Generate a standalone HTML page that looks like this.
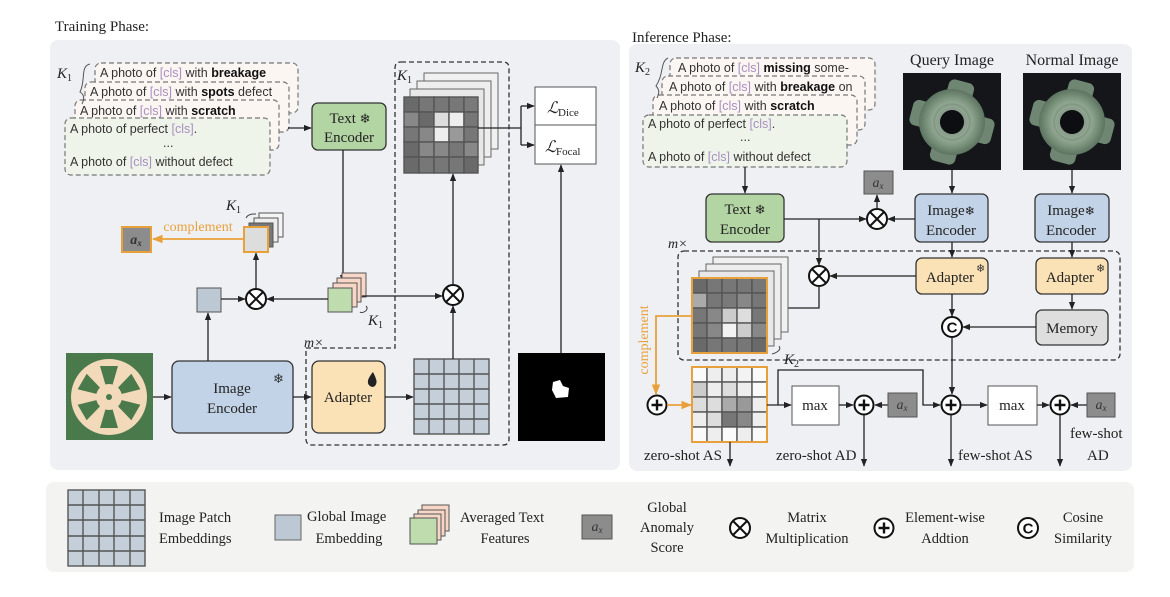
<!DOCTYPE html>
<html><head><meta charset="utf-8"><style>
html,body{margin:0;padding:0;background:#fff;}
svg{display:block;}
.s{font-family:"Liberation Serif",serif;fill:#222;}
.p{font-family:"Liberation Sans",sans-serif;font-size:12.5px;fill:#333;}
.c{fill:#a98fc0;}
.b{font-weight:bold;fill:#111;}
</style></head><body>
<svg width="1170" height="597" viewBox="0 0 1170 597" xmlns="http://www.w3.org/2000/svg">
<defs>
<marker id="ah" viewBox="0 0 10 10" refX="9" refY="5" markerWidth="6" markerHeight="6" orient="auto-start-reverse"><path d="M0,1 L10,5 L0,9 z" fill="#222"/></marker>
<marker id="ao" viewBox="0 0 10 10" refX="9" refY="5" markerWidth="6" markerHeight="6" orient="auto"><path d="M0,1 L10,5 L0,9 z" fill="#e8a13a"/></marker>
<radialGradient id="gear" cx="50%" cy="50%" r="50%"><stop offset="30%" stop-color="#4f6458"/><stop offset="60%" stop-color="#8fa58f"/><stop offset="100%" stop-color="#5c7460"/></radialGradient>
<g id="otimes"><circle r="10" fill="#fff" stroke="#111" stroke-width="2"/><path d="M-7,-7 L7,7 M7,-7 L-7,7" stroke="#111" stroke-width="2"/></g>
<g id="oplus"><circle r="9.5" fill="#fff" stroke="#111" stroke-width="2"/><path d="M-5.5,0 L5.5,0 M0,-5.5 L0,5.5" stroke="#111" stroke-width="2.4"/></g>
<g id="ocirc"><circle r="10" fill="#fff" stroke="#111" stroke-width="2"/><text x="0" y="5.5" text-anchor="middle" font-family="Liberation Sans,sans-serif" font-weight="bold" font-size="15" fill="#111">C</text></g>
<g id="gearimg">
 <rect x="0" y="0" width="98" height="97" fill="#14161a"/>
 <g transform="translate(49,49) rotate(15)">
  <rect x="-13" y="-42" width="26" height="84" rx="6" fill="#6f8673"/>
  <rect x="-42" y="-13" width="84" height="26" rx="6" fill="#6f8673"/>
  <circle r="33" fill="url(#gear)"/>
  <circle r="17" fill="#9aae9a" opacity=".7"/>
  <circle r="12" fill="#0c0e12"/>
 </g>
</g>
</defs>

<!-- panels -->
<rect x="50" y="40" width="570" height="430" rx="8" fill="#eff0f4"/>
<rect x="629" y="44" width="503" height="427" rx="8" fill="#eff0f4"/>
<rect x="46" y="482" width="1088" height="90" rx="8" fill="#f3f4f1"/>
<text class="s" x="55" y="31" font-size="15">Training Phase:</text>
<text class="s" x="632" y="42" font-size="15">Inference Phase:</text>

<!-- ===== LEFT ===== -->
<g stroke="#777" stroke-width="1.2" stroke-dasharray="5,3">
<rect x="95" y="63" width="203" height="50" rx="6" fill="#fcf6f2"/>
<rect x="85" y="82" width="204" height="50" rx="6" fill="#fcf6f2"/>
<rect x="75" y="100" width="204" height="50" rx="6" fill="#fcf6f2"/>
<rect x="65" y="118" width="205" height="57" rx="6" fill="#eef4ea"/>
</g>
<text class="s" x="57" y="78" font-size="15" font-style="italic">K</text><text class="s" x="67" y="81" font-size="10">1</text>
<path d="M90,64 C80,66 86,80 80,92 C85,95 84,100 82,104" stroke="#555" fill="none" stroke-width="1"/>
<text class="p" x="100" y="77">A photo of <tspan class="c">[cls]</tspan> with <tspan class="b">breakage</tspan></text>
<text class="p" x="90" y="96">A photo of <tspan class="c">[cls]</tspan> with <tspan class="b">spots</tspan> defect</text>
<text class="p" x="80" y="115">A photo of <tspan class="c">[cls]</tspan> with <tspan class="b">scratch</tspan></text>
<text class="p" x="70" y="133">A photo of perfect <tspan class="c">[cls]</tspan>.</text>
<text class="p" x="163" y="147">...</text>
<text class="p" x="70" y="166">A photo of <tspan class="c">[cls]</tspan> without defect</text>
<line x1="288" y1="128" x2="311" y2="128" stroke="#222" stroke-width="1.3" marker-end="url(#ah)"/>

<rect x="312" y="103" width="74" height="47" rx="6" fill="#b3d4a3" stroke="#333" stroke-width="1.3"/>
<text class="s" x="350" y="123" font-size="15" text-anchor="middle">Text <tspan font-size="13">❄</tspan></text>
<text class="s" x="349" y="142" font-size="15" text-anchor="middle">Encoder</text>

<!-- dashed region -->
<path d="M401,62 L503,62 Q509,62 509,68 L509,439 Q509,445 503,445 L312,445 Q306,445 306,439 L306,348 L395,348 L395,68 Q395,62 401,62 Z" fill="none" stroke="#333" stroke-width="1.3" stroke-dasharray="5,3"/>
<text class="s" x="397" y="80" font-size="15" font-style="italic">K</text><text class="s" x="407" y="83" font-size="10">1</text>
<text class="s" x="304" y="347" font-size="14" font-style="italic">m×</text>

<!-- grid stack top -->
<g stroke="#666" stroke-width="1">
<rect x="424" y="73" width="74" height="76" fill="#f0f0f0"/>
<rect x="417" y="81" width="74" height="76" fill="#eee"/>
<rect x="410" y="89" width="74" height="76" fill="#e8e8e8"/>
</g>
<g stroke="#555" stroke-width="1.4">
<rect x="404" y="97" width="15" height="15" fill="#6a6a6a"/><rect x="419" y="97" width="15" height="15" fill="#777"/><rect x="434" y="97" width="15" height="15" fill="#777"/><rect x="449" y="97" width="15" height="15" fill="#777"/><rect x="464" y="97" width="14" height="15" fill="#7a7a7a"/>
<rect x="404" y="112" width="15" height="15" fill="#888"/><rect x="419" y="112" width="15" height="15" fill="#6a6a6a"/><rect x="434" y="112" width="15" height="15" fill="#ddd"/><rect x="449" y="112" width="15" height="15" fill="#eee"/><rect x="464" y="112" width="14" height="15" fill="#777"/>
<rect x="404" y="127" width="15" height="15" fill="#777"/><rect x="419" y="127" width="15" height="15" fill="#888"/><rect x="434" y="127" width="15" height="15" fill="#eee"/><rect x="449" y="127" width="15" height="15" fill="#999"/><rect x="464" y="127" width="14" height="15" fill="#777"/>
<rect x="404" y="142" width="15" height="15" fill="#6a6a6a"/><rect x="419" y="142" width="15" height="15" fill="#888"/><rect x="434" y="142" width="15" height="15" fill="#888"/><rect x="449" y="142" width="15" height="15" fill="#777"/><rect x="464" y="142" width="14" height="15" fill="#888"/>
<rect x="404" y="157" width="15" height="16" fill="#6a6a6a"/><rect x="419" y="157" width="15" height="16" fill="#777"/><rect x="434" y="157" width="15" height="16" fill="#777"/><rect x="449" y="157" width="15" height="16" fill="#777"/><rect x="464" y="157" width="14" height="16" fill="#6a6a6a"/>
</g>
<!-- loss -->
<path d="M478,128 L521,128 M521,106 L521,145" stroke="#222" stroke-width="1.3" fill="none"/>
<line x1="521" y1="106" x2="534" y2="106" stroke="#222" stroke-width="1.3" marker-end="url(#ah)"/>
<line x1="521" y1="145" x2="534" y2="145" stroke="#222" stroke-width="1.3" marker-end="url(#ah)"/>
<rect x="535" y="87" width="61" height="77" fill="#fff" stroke="#555"/>
<line x1="535" y1="125" x2="596" y2="125" stroke="#555"/>
<text class="s" x="547" y="113" font-size="16" font-style="italic">ℒ</text><text class="s" x="558" y="116" font-size="11">Dice</text>
<text class="s" x="545" y="152" font-size="16" font-style="italic">ℒ</text><text class="s" x="556" y="155" font-size="11">Focal</text>
<!-- mask -->
<rect x="518" y="353" width="87" height="88" fill="#000"/>
<path d="M553,382 L560,380 L563,386 L569,388 L568,397 L556,398 L552,390 Z" fill="#fff"/>
<line x1="561" y1="353" x2="561" y2="165" stroke="#222" stroke-width="1.3" marker-end="url(#ah)"/>

<!-- photo -->
<rect x="66" y="353" width="87" height="87" fill="#4a7a4c"/>
<circle cx="109" cy="397" r="38" fill="#f1d9b9"/>
<g fill="#4a7a4c">
<path d="M109,397 L100,366 L118,366 Z" transform="rotate(0 109 397)"/>
<path d="M109,397 L100,366 L118,366 Z" transform="rotate(60 109 397)"/>
<path d="M109,397 L100,366 L118,366 Z" transform="rotate(120 109 397)"/>
<path d="M109,397 L100,366 L118,366 Z" transform="rotate(180 109 397)"/>
<path d="M109,397 L100,366 L118,366 Z" transform="rotate(240 109 397)"/>
<path d="M109,397 L100,366 L118,366 Z" transform="rotate(300 109 397)"/>
</g>
<circle cx="109" cy="397" r="13" fill="#f1d9b9"/>
<circle cx="109" cy="397" r="3" fill="#4a7a4c"/>
<line x1="153" y1="397" x2="171" y2="397" stroke="#222" stroke-width="1.3" marker-end="url(#ah)"/>
<rect x="172" y="361" width="121" height="72" rx="7" fill="#c3d3e7" stroke="#333" stroke-width="1.3"/>
<text class="s" x="232" y="393" font-size="15" text-anchor="middle">Image</text>
<text class="s" x="232" y="413" font-size="15" text-anchor="middle">Encoder</text>
<text x="273" y="383" font-size="13" fill="#333">❄</text>
<line x1="293" y1="397" x2="311" y2="397" stroke="#222" stroke-width="1.3" marker-end="url(#ah)"/>
<rect x="312" y="361" width="73" height="72" rx="7" fill="#fbe2b6" stroke="#333" stroke-width="1.3"/>
<text class="s" x="348" y="402" font-size="15" text-anchor="middle">Adapter</text>
<path d="M373,372 C368,378 366,383 370,386 C374,389 378,384 376,379 C375,376 374,374 373,372 Z" fill="#222"/>
<line x1="385" y1="397" x2="413" y2="397" stroke="#222" stroke-width="1.3" marker-end="url(#ah)"/>
<!-- patch grid -->
<rect x="414" y="359" width="75" height="75" fill="#c5cfd9" stroke="#555" stroke-width="1.4"/>
<path d="M429,359V434M444,359V434M459,359V434M474,359V434M414,374H489M414,389H489M414,404H489M414,419H489" stroke="#555" stroke-width="1.4"/>
<line x1="453" y1="359" x2="453" y2="306" stroke="#222" stroke-width="1.3" marker-end="url(#ah)"/>
<use href="#otimes" x="453" y="295"/>
<line x1="453" y1="285" x2="453" y2="174" stroke="#222" stroke-width="1.3" marker-end="url(#ah)"/>

<!-- global emb -->
<line x1="208" y1="361" x2="208" y2="313" stroke="#222" stroke-width="1.3" marker-end="url(#ah)"/>
<rect x="197" y="288" width="24" height="24" fill="#bcc8d3" stroke="#555"/>
<line x1="221" y1="299" x2="245" y2="299" stroke="#222" stroke-width="1.3" marker-end="url(#ah)"/>
<use href="#otimes" x="256" y="299"/>
<!-- text features stack -->
<line x1="343" y1="150" x2="343" y2="282" stroke="#222" stroke-width="1.3" marker-end="url(#ah)"/>
<g stroke="#555" stroke-width="1">
<rect x="342" y="273" width="24" height="24" fill="#f7d6c8"/>
<rect x="337" y="278" width="24" height="24" fill="#f7d6c8"/>
<rect x="333" y="283" width="24" height="24" fill="#f7d6c8"/>
<rect x="328" y="288" width="24" height="24" fill="#bfdcae"/>
</g>
<line x1="328" y1="299" x2="267" y2="299" stroke="#222" stroke-width="1.3" marker-end="url(#ah)"/>
<line x1="362" y1="296" x2="442" y2="296" stroke="#222" stroke-width="1.3" marker-end="url(#ah)"/>
<path d="M366,306 C370,310 362,314 360,312" stroke="#444" fill="none"/>
<text class="s" x="368" y="325" font-size="15" font-style="italic">K</text><text class="s" x="378" y="328" font-size="10">1</text>
<!-- small stack -->
<line x1="256" y1="289" x2="256" y2="253" stroke="#222" stroke-width="1.3" marker-end="url(#ah)"/>
<g stroke="#555" stroke-width="1">
<rect x="259" y="213" width="24" height="24" fill="#f4f4f4"/>
<rect x="254" y="218" width="24" height="24" fill="#eee"/>
<rect x="249" y="223" width="24" height="24" fill="#777"/>
</g>
<rect x="244" y="227" width="24" height="25" fill="#ddd" stroke="#e8a13a" stroke-width="2"/>
<text class="s" x="226" y="210" font-size="15" font-style="italic">K</text><text class="s" x="236" y="213" font-size="10">1</text>
<path d="M246,218 C248,214 252,214 256,214" stroke="#444" fill="none"/>
<line x1="244" y1="239" x2="153" y2="239" stroke="#e8a13a" stroke-width="1.8" marker-end="url(#ao)"/>
<text class="s" x="198" y="231" font-size="14" text-anchor="middle" style="fill:#e8a13a">complement</text>
<rect x="122" y="227" width="29" height="25" fill="#8c8c8c" stroke="#e8a13a" stroke-width="2"/>
<text class="s" x="136" y="244" font-size="14" font-style="italic" text-anchor="middle" font-weight="bold" style="fill:#333">a<tspan font-size="9" dy="2">x</tspan></text>

<!-- ===== RIGHT ===== -->
<g stroke="#777" stroke-width="1.2" stroke-dasharray="5,3">
<rect x="670" y="58" width="205" height="52" rx="6" fill="#fcf6f2"/>
<rect x="662" y="76" width="203" height="54" rx="6" fill="#fcf6f2"/>
<rect x="653" y="95" width="204" height="50" rx="6" fill="#fcf6f2"/>
<rect x="643" y="115" width="204" height="52" rx="6" fill="#eef4ea"/>
</g>
<text class="s" x="635" y="72" font-size="15" font-style="italic">K</text><text class="s" x="645" y="75" font-size="10">2</text>
<path d="M668,58 C660,62 664,74 656,86 C660,90 659,94 657,98" stroke="#555" fill="none"/>
<text class="p" x="678" y="72">A photo of <tspan class="c">[cls]</tspan> <tspan class="b">missing</tspan> some-</text>
<text class="p" x="669" y="91">A photo of <tspan class="c">[cls]</tspan> with <tspan class="b">breakage</tspan> on</text>
<text class="p" x="659" y="110">A photo of <tspan class="c">[cls]</tspan> with <tspan class="b">scratch</tspan></text>
<text class="p" x="648" y="128">A photo of perfect <tspan class="c">[cls]</tspan>.</text>
<text class="p" x="740" y="141">...</text>
<text class="p" x="648" y="161">A photo of <tspan class="c">[cls]</tspan> without defect</text>
<line x1="745" y1="167" x2="745" y2="193" stroke="#222" stroke-width="1.3" marker-end="url(#ah)"/>
<rect x="706" y="194" width="78" height="48" rx="6" fill="#b3d4a3" stroke="#333" stroke-width="1.3"/>
<text class="s" x="745" y="214" font-size="15" text-anchor="middle">Text <tspan font-size="13">❄</tspan></text>
<text class="s" x="745" y="234" font-size="15" text-anchor="middle">Encoder</text>

<text class="s" x="952" y="65" font-size="16" text-anchor="middle">Query Image</text>
<text class="s" x="1072" y="65" font-size="16" text-anchor="middle">Normal Image</text>
<use href="#gearimg" x="903" y="73"/>
<use href="#gearimg" x="1023" y="73"/>
<line x1="952" y1="170" x2="952" y2="193" stroke="#222" stroke-width="1.3" marker-end="url(#ah)"/>
<line x1="1072" y1="170" x2="1072" y2="193" stroke="#222" stroke-width="1.3" marker-end="url(#ah)"/>
<rect x="915" y="194" width="73" height="48" rx="6" fill="#c3d3e7" stroke="#333" stroke-width="1.3"/>
<text class="s" x="951" y="215" font-size="15" text-anchor="middle">Image<tspan font-size="12">❄</tspan></text>
<text class="s" x="951" y="235" font-size="15" text-anchor="middle">Encoder</text>
<rect x="1035" y="194" width="74" height="48" rx="6" fill="#c3d3e7" stroke="#333" stroke-width="1.3"/>
<text class="s" x="1071" y="215" font-size="15" text-anchor="middle">Image<tspan font-size="12">❄</tspan></text>
<text class="s" x="1071" y="235" font-size="15" text-anchor="middle">Encoder</text>

<line x1="784" y1="219" x2="866" y2="219" stroke="#222" stroke-width="1.3" marker-end="url(#ah)"/>
<line x1="915" y1="219" x2="888" y2="219" stroke="#222" stroke-width="1.3" marker-end="url(#ah)"/>
<use href="#otimes" x="877" y="219"/>
<line x1="877" y1="209" x2="877" y2="195" stroke="#222" stroke-width="1.3" marker-end="url(#ah)"/>
<rect x="864" y="171" width="29" height="23" fill="#8c8c8c" stroke="#555"/>
<text class="s" x="878" y="187" font-size="14" font-style="italic" text-anchor="middle" style="fill:#333">a<tspan font-size="9" dy="2">x</tspan></text>
<line x1="819" y1="219" x2="819" y2="265" stroke="#222" stroke-width="1.3" marker-end="url(#ah)"/>

<!-- dashed box right -->
<rect x="678" y="251" width="442" height="109" rx="6" fill="none" stroke="#333" stroke-width="1.3" stroke-dasharray="5,3"/>
<text class="s" x="668" y="248" font-size="14" font-style="italic">m×</text>
<line x1="952" y1="242" x2="952" y2="257" stroke="#222" stroke-width="1.3" marker-end="url(#ah)"/>
<line x1="1072" y1="242" x2="1072" y2="257" stroke="#222" stroke-width="1.3" marker-end="url(#ah)"/>
<rect x="916" y="258" width="72" height="36" rx="6" fill="#fbe2b6" stroke="#333" stroke-width="1.3"/>
<text class="s" x="950" y="282" font-size="15" text-anchor="middle">Adapter</text><text x="976" y="272" font-size="11" fill="#333">❄</text>
<rect x="1036" y="258" width="72" height="36" rx="6" fill="#fbe2b6" stroke="#333" stroke-width="1.3"/>
<text class="s" x="1070" y="282" font-size="15" text-anchor="middle">Adapter</text><text x="1096" y="272" font-size="11" fill="#333">❄</text>
<line x1="916" y1="276" x2="830" y2="276" stroke="#222" stroke-width="1.3" marker-end="url(#ah)"/>
<use href="#otimes" x="819" y="276"/>
<path d="M819,286 L819,308 L776,308" stroke="#222" stroke-width="1.3" fill="none" marker-end="url(#ah)"/>
<line x1="1072" y1="294" x2="1072" y2="309" stroke="#222" stroke-width="1.3" marker-end="url(#ah)"/>
<rect x="1036" y="310" width="72" height="35" rx="6" fill="#dedede" stroke="#333" stroke-width="1.3"/>
<text class="s" x="1072" y="333" font-size="15" text-anchor="middle">Memory</text>
<line x1="952" y1="294" x2="952" y2="316" stroke="#222" stroke-width="1.3" marker-end="url(#ah)"/>
<line x1="1036" y1="327" x2="963" y2="327" stroke="#222" stroke-width="1.3" marker-end="url(#ah)"/>
<use href="#ocirc" x="952" y="327"/>
<line x1="952" y1="337" x2="952" y2="394" stroke="#222" stroke-width="1.3" marker-end="url(#ah)"/>

<!-- right grid stack -->
<g stroke="#666" stroke-width="1">
<rect x="713" y="257" width="75" height="75" fill="#f0f0f0"/>
<rect x="706" y="264" width="75" height="75" fill="#eee"/>
<rect x="699" y="271" width="75" height="75" fill="#e8e8e8"/>
</g>
<g stroke="#555" stroke-width="1.4">
<rect x="692" y="278" width="15" height="15" fill="#6a6a6a"/><rect x="707" y="278" width="15" height="15" fill="#777"/><rect x="722" y="278" width="15" height="15" fill="#777"/><rect x="737" y="278" width="15" height="15" fill="#777"/><rect x="752" y="278" width="15" height="15" fill="#777"/>
<rect x="692" y="293" width="15" height="15" fill="#aaa"/><rect x="707" y="293" width="15" height="15" fill="#777"/><rect x="722" y="293" width="15" height="15" fill="#7a7a7a"/><rect x="737" y="293" width="15" height="15" fill="#888"/><rect x="752" y="293" width="15" height="15" fill="#777"/>
<rect x="692" y="308" width="15" height="15" fill="#777"/><rect x="707" y="308" width="15" height="15" fill="#888"/><rect x="722" y="308" width="15" height="15" fill="#ccc"/><rect x="737" y="308" width="15" height="15" fill="#ddd"/><rect x="752" y="308" width="15" height="15" fill="#777"/>
<rect x="692" y="323" width="15" height="15" fill="#777"/><rect x="707" y="323" width="15" height="15" fill="#888"/><rect x="722" y="323" width="15" height="15" fill="#f2f2f2"/><rect x="737" y="323" width="15" height="15" fill="#ccc"/><rect x="752" y="323" width="15" height="15" fill="#888"/>
<rect x="692" y="338" width="15" height="15" fill="#6a6a6a"/><rect x="707" y="338" width="15" height="15" fill="#777"/><rect x="722" y="338" width="15" height="15" fill="#777"/><rect x="737" y="338" width="15" height="15" fill="#777"/><rect x="752" y="338" width="15" height="15" fill="#6a6a6a"/>
</g>
<rect x="692" y="278" width="75" height="75" fill="none" stroke="#e8a13a" stroke-width="2"/>
<path d="M779,346 C782,350 776,353 772,354" stroke="#444" fill="none"/>
<text class="s" x="784" y="364" font-size="15" font-style="italic">K</text><text class="s" x="794" y="367" font-size="10">2</text>
<path d="M692,316 L656,316 L656,394" stroke="#e8a13a" stroke-width="1.8" fill="none" marker-end="url(#ao)"/>
<text class="s" x="648" y="340" font-size="14" text-anchor="middle" transform="rotate(-90 648 340)" style="fill:#e8a13a">complement</text>
<use href="#oplus" x="657" y="405"/>
<line x1="667" y1="405" x2="691" y2="405" stroke="#e8a13a" stroke-width="1.8" marker-end="url(#ao)"/>

<!-- lower grid -->
<g stroke="#555" stroke-width="1.4">
<rect x="692" y="367" width="15" height="15" fill="#fafafa"/><rect x="707" y="367" width="15" height="15" fill="#eee"/><rect x="722" y="367" width="15" height="15" fill="#eee"/><rect x="737" y="367" width="15" height="15" fill="#f3f3f3"/><rect x="752" y="367" width="15" height="15" fill="#fafafa"/>
<rect x="692" y="382" width="15" height="15" fill="#ccc"/><rect x="707" y="382" width="15" height="15" fill="#eee"/><rect x="722" y="382" width="15" height="15" fill="#ddd"/><rect x="737" y="382" width="15" height="15" fill="#eee"/><rect x="752" y="382" width="15" height="15" fill="#fafafa"/>
<rect x="692" y="397" width="15" height="15" fill="#ddd"/><rect x="707" y="397" width="15" height="15" fill="#ddd"/><rect x="722" y="397" width="15" height="15" fill="#aaa"/><rect x="737" y="397" width="15" height="15" fill="#999"/><rect x="752" y="397" width="15" height="15" fill="#eee"/>
<rect x="692" y="412" width="15" height="15" fill="#eee"/><rect x="707" y="412" width="15" height="15" fill="#ddd"/><rect x="722" y="412" width="15" height="15" fill="#777"/><rect x="737" y="412" width="15" height="15" fill="#888"/><rect x="752" y="412" width="15" height="15" fill="#eee"/>
<rect x="692" y="427" width="15" height="15" fill="#fafafa"/><rect x="707" y="427" width="15" height="15" fill="#eee"/><rect x="722" y="427" width="15" height="15" fill="#fafafa"/><rect x="737" y="427" width="15" height="15" fill="#eee"/><rect x="752" y="427" width="15" height="15" fill="#fafafa"/>
</g>
<rect x="692" y="367" width="75" height="75" fill="none" stroke="#e8a13a" stroke-width="2"/>

<line x1="767" y1="405" x2="791" y2="405" stroke="#222" stroke-width="1.3" marker-end="url(#ah)"/>
<path d="M778,405 L778,370 L923,370 L923,405 L940,405" stroke="#222" stroke-width="1.3" fill="none" marker-end="url(#ah)"/>
<rect x="792" y="386" width="47" height="39" fill="#fff" stroke="#555"/>
<text class="s" x="815" y="410" font-size="15" text-anchor="middle">max</text>
<line x1="839" y1="405" x2="853" y2="405" stroke="#222" stroke-width="1.3" marker-end="url(#ah)"/>
<use href="#oplus" x="864" y="405"/>
<line x1="888" y1="405" x2="875" y2="405" stroke="#222" stroke-width="1.3" marker-end="url(#ah)"/>
<rect x="888" y="393" width="29" height="24" fill="#8c8c8c" stroke="#555"/>
<text class="s" x="902" y="409" font-size="14" font-style="italic" text-anchor="middle" style="fill:#333">a<tspan font-size="9" dy="2">x</tspan></text>
<use href="#oplus" x="951" y="405"/>
<line x1="961" y1="405" x2="987" y2="405" stroke="#222" stroke-width="1.3" marker-end="url(#ah)"/>
<rect x="988" y="386" width="49" height="39" fill="#fff" stroke="#555"/>
<text class="s" x="1012" y="410" font-size="15" text-anchor="middle">max</text>
<line x1="1037" y1="405" x2="1049" y2="405" stroke="#222" stroke-width="1.3" marker-end="url(#ah)"/>
<use href="#oplus" x="1060" y="405"/>
<line x1="1087" y1="405" x2="1071" y2="405" stroke="#222" stroke-width="1.3" marker-end="url(#ah)"/>
<rect x="1087" y="393" width="28" height="24" fill="#8c8c8c" stroke="#555"/>
<text class="s" x="1101" y="409" font-size="14" font-style="italic" text-anchor="middle" style="fill:#333">a<tspan font-size="9" dy="2">x</tspan></text>

<line x1="730" y1="442" x2="730" y2="466" stroke="#222" stroke-width="1.3" marker-end="url(#ah)"/>
<line x1="864" y1="415" x2="864" y2="466" stroke="#222" stroke-width="1.3" marker-end="url(#ah)"/>
<line x1="951" y1="415" x2="951" y2="466" stroke="#222" stroke-width="1.3" marker-end="url(#ah)"/>
<line x1="1060" y1="415" x2="1060" y2="466" stroke="#222" stroke-width="1.3" marker-end="url(#ah)"/>
<text class="s" x="644" y="460" font-size="15">zero-shot AS</text>
<text class="s" x="776" y="460" font-size="15">zero-shot AD</text>
<text class="s" x="958" y="460" font-size="15">few-shot AS</text>
<text class="s" x="1070" y="438" font-size="15">few-shot</text>
<text class="s" x="1087" y="460" font-size="15">AD</text>

<!-- ===== LEGEND ===== -->
<rect x="68" y="490" width="77" height="76" fill="#c5cfd9" stroke="#555" stroke-width="1.4"/>
<path d="M83,490V566M99,490V566M114,490V566M130,490V566M68,505H145M68,520H145M68,536H145M68,551H145" stroke="#555" stroke-width="1.4"/>
<text class="s" x="159" y="522" font-size="14.5">Image Patch</text>
<text class="s" x="159" y="543" font-size="14.5">Embeddings</text>
<rect x="275" y="515" width="26" height="25" fill="#bcc8d3" stroke="#666"/>
<text class="s" x="307" y="521" font-size="14.5">Global Image</text>
<text class="s" x="349" y="543" font-size="14.5" text-anchor="middle">Embedding</text>
<g stroke="#555" stroke-width="1">
<rect x="422" y="505" width="27" height="26" fill="#f7d6c8"/>
<rect x="418" y="510" width="27" height="26" fill="#f7d6c8"/>
<rect x="414" y="514" width="27" height="26" fill="#f7d6c8"/>
<rect x="410" y="518" width="27" height="26" fill="#bfdcae"/>
</g>
<text class="s" x="460" y="522" font-size="14.5">Averaged Text</text>
<text class="s" x="505" y="543" font-size="14.5" text-anchor="middle">Features</text>
<rect x="582" y="515" width="30" height="24" fill="#8c8c8c" stroke="#555"/>
<text class="s" x="597" y="531" font-size="14" font-style="italic" text-anchor="middle" style="fill:#333">a<tspan font-size="9" dy="2">x</tspan></text>
<text class="s" x="667" y="512" font-size="14.5" text-anchor="middle">Global</text>
<text class="s" x="667" y="532" font-size="14.5" text-anchor="middle">Anomaly</text>
<text class="s" x="667" y="552" font-size="14.5" text-anchor="middle">Score</text>
<use href="#otimes" x="740" y="528"/>
<text class="s" x="807" y="522" font-size="14.5" text-anchor="middle">Matrix</text>
<text class="s" x="807" y="543" font-size="14.5" text-anchor="middle">Multiplication</text>
<use href="#oplus" x="884" y="528"/>
<text class="s" x="945" y="522" font-size="14.5" text-anchor="middle">Element-wise</text>
<text class="s" x="945" y="543" font-size="14.5" text-anchor="middle">Addtion</text>
<use href="#ocirc" x="1028" y="528"/>
<text class="s" x="1083" y="522" font-size="14.5" text-anchor="middle">Cosine</text>
<text class="s" x="1083" y="543" font-size="14.5" text-anchor="middle">Similarity</text>
</svg>
</body></html>
